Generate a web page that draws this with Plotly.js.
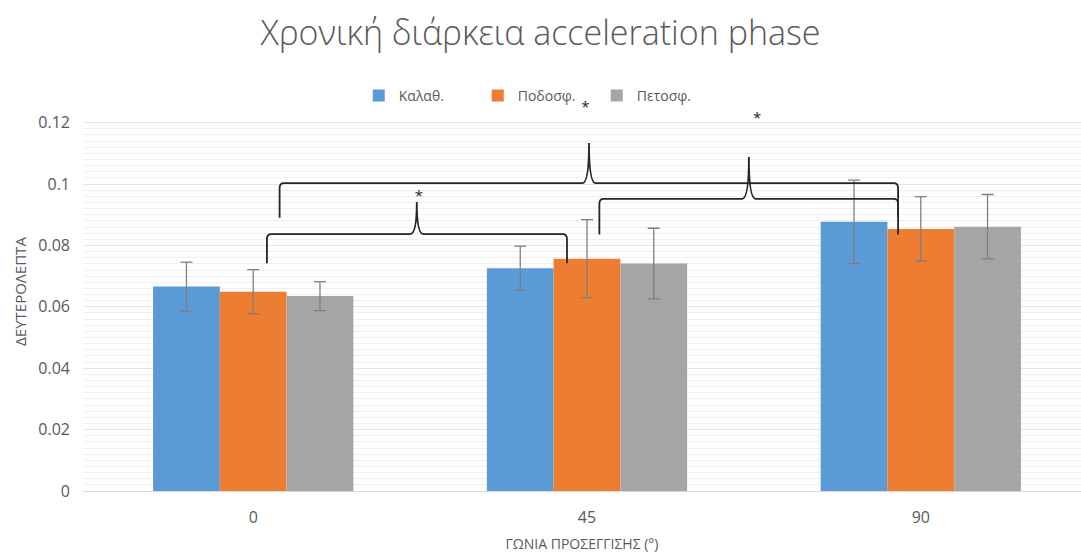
<!DOCTYPE html>
<html>
<head>
<meta charset="utf-8">
<script src="https://cdn.plot.ly/plotly-3.0.1.min.js"></script>
<style>html,body{margin:0;padding:0;background:#fff}#chart{width:1081px;height:555px}</style>
</head>
<body>
<div id="chart"></div>
<script>
// Categories (approach angle) and tick labels
const categories = [0, 1, 2];
const tickLabels = ['0', '45', '90'];

// Series names and values (seconds)
const seriesNames = ['Καλαθ.', 'Ποδοσφ.', 'Πετοσφ.'];
const basketball = [0.0666, 0.0726, 0.0877];
const football   = [0.0649, 0.0757, 0.0854];
const volleyball = [0.0635, 0.0741, 0.0861];
const basketballErr = [0.0080, 0.0072, 0.0136];
const footballErr   = [0.0072, 0.0127, 0.0105];
const volleyballErr = [0.0047, 0.0115, 0.0105];
const colors = ['#5b9bd5', '#ed7d31', '#a5a5a5'];

// Y axis ticks
const yTickVals = [0, 0.02, 0.04, 0.06, 0.08, 0.1, 0.12];

// Significance braces (in category-index / value units)
const braceFrom  = [0.041, 0.079, 1.037];
const braceTo    = [0.940, 1.932, 1.932];
const braceLevel = [0.0837, 0.1003, 0.0952];
const braceEnd   = [0.0742, 0.0890, 0.0836];
const braceTipX  = [0.490, 1.006, 1.485];
const braceTipY  = [0.0942, 0.1134, 0.1088];
const starX = [0.496, 0.995, 1.510];
const starY = [0.0958, 0.1246, 0.1210];

const values = [basketball, football, volleyball];
const errs = [basketballErr, footballErr, volleyballErr];

const traces = values.map((v, i) => ({
  type: 'bar',
  name: seriesNames[i],
  x: categories,
  y: v,
  marker: {color: colors[i]},
  error_y: {type: 'data', array: errs[i], visible: true, color: '#7f7f7f', thickness: 1.3, width: 6},
  hoverinfo: 'x+y'
}));

traces.push({
  type: 'scatter',
  mode: 'text',
  x: starX,
  y: starY,
  text: starX.map(() => '*'),
  textfont: {family: 'Open Sans, sans-serif', size: 15, color: '#262626'},
  textposition: 'middle center',
  cliponaxis: false,
  showlegend: false,
  hoverinfo: 'skip'
});

const rx = 0.013, ry = 0.0016, tw = 0.02;
const shapes = braceFrom.map((x0, i) => {
  const x1 = braceTo[i], yh = braceLevel[i], ye = braceEnd[i], tx = braceTipX[i], ty = braceTipY[i];
  const path = `M ${x0},${ye} L ${x0},${yh - ry} Q ${x0},${yh} ${x0 + rx},${yh} ` +
    `L ${tx - tw},${yh} Q ${tx},${yh} ${tx},${ty} Q ${tx},${yh} ${tx + tw},${yh} ` +
    `L ${x1 - rx},${yh} Q ${x1},${yh} ${x1},${yh - ry} L ${x1},${ye}`;
  return {type: 'path', xref: 'x', yref: 'y', path: path, line: {color: '#262626', width: 1.8}};
});

// minor grid lines only up to the top tick
const yTop = yTickVals[yTickVals.length - 1];
const minorVals = [];
for (let k = 1; k * 0.002 < yTop - 1e-9; k++) minorVals.push(+(k * 0.002).toFixed(3));

const layout = {
  width: 1081, height: 555,
  margin: {l: 83, r: 0, t: 92, b: 64, autoexpand: false},
  paper_bgcolor: '#ffffff', plot_bgcolor: '#ffffff',
  font: {family: 'Open Sans, sans-serif', size: 15, color: '#595959'},
  title: {text: 'Χρονική διάρκεια acceleration phase', x: 0.5, xref: 'container', xanchor: 'center',
          y: 0.94, yref: 'container', yanchor: 'middle',
          font: {family: 'Open Sans, sans-serif', size: 34, color: '#595959', weight: 300}},
  barmode: 'group',
  bargap: 0.4,
  bargroupgap: 0,
  showlegend: true,
  legend: {orientation: 'h', x: 0.497, xref: 'container', xanchor: 'center', y: 0.827, yref: 'container', yanchor: 'middle',
           font: {family: 'Open Sans, sans-serif', size: 14, color: '#595959'}, itemwidth: 30,
           entrywidth: 74, entrywidthmode: 'pixels', bgcolor: 'rgba(0,0,0,0)'},
  xaxis: {
    range: [-0.51, 2.48],
    tickvals: categories, ticktext: tickLabels,
    showgrid: false, zeroline: false,
    showline: true, linecolor: '#d9d9d9', linewidth: 1,
    ticks: '', ticklabelstandoff: 12,
    tickfont: {family: 'Open Sans, sans-serif', size: 16, color: '#595959'},
    title: {text: 'ΓΩΝΙΑ ΠΡΟΣΕΓΓΙΣΗΣ (°)', standoff: 11, font: {family: 'Open Sans, sans-serif', size: 14, color: '#595959'}},
    fixedrange: true
  },
  yaxis: {
    range: [0, 0.13],
    tickvals: yTickVals,
    showgrid: true, gridcolor: '#e4e4e4', gridwidth: 1,
    minor: {tickvals: minorVals, showgrid: true, gridcolor: '#efefef', gridwidth: 1},
    zeroline: false, showline: false,
    ticks: '', ticklabelstandoff: 12,
    tickfont: {family: 'Open Sans, sans-serif', size: 16, color: '#595959'},
    title: {text: 'ΔΕΥΤΕΡΟΛΕΠΤΑ', standoff: 8, font: {family: 'Open Sans, sans-serif', size: 15, color: '#595959'}},
    fixedrange: true
  },
  shapes: shapes
};

Plotly.newPlot('chart', traces, layout, {displayModeBar: false, staticPlot: true});
</script>
</body>
</html>
